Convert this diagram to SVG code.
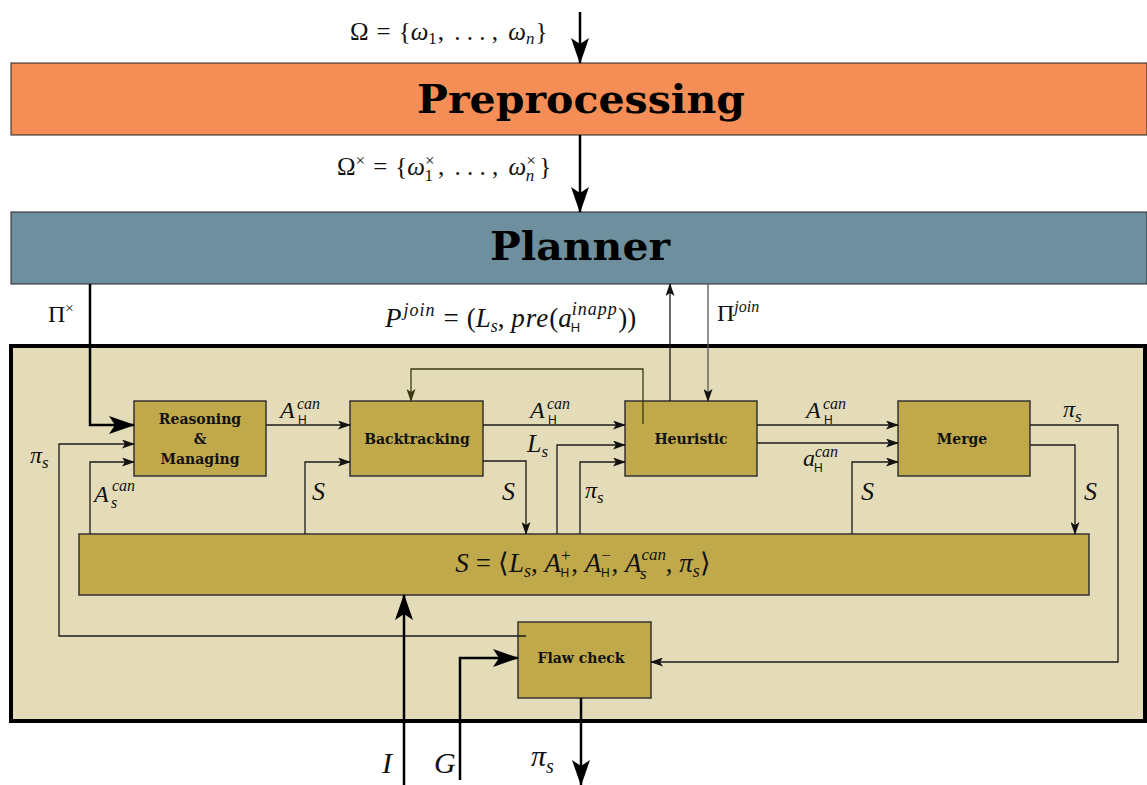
<svg xmlns="http://www.w3.org/2000/svg" width="1147" height="785" viewBox="0 0 1147 785">
<defs>
<style>
.m{font-family:"Liberation Serif",serif;fill:#111}
.i{font-style:italic}
.h{font-family:"Liberation Sans",sans-serif;fill:#111}
.b{font-family:"DejaVu Serif",serif;font-weight:bold;font-size:14px;text-anchor:middle;fill:#111}
.title{font-family:"DejaVu Serif",serif;font-weight:bold;font-size:40px;text-anchor:middle;fill:#000}
.box{fill:#C0A94B;stroke:#333;stroke-width:1.5}
.c{fill:none;stroke:#1a1a1a;stroke-width:1.3;marker-end:url(#sa)}
.t{fill:none;stroke:#000;stroke-width:2.5;marker-end:url(#ba)}
</style>
<marker id="sa" markerUnits="userSpaceOnUse" markerWidth="13" markerHeight="9" viewBox="0 0 13 9" refX="12" refY="4.5" orient="auto">
<path d="M0,0 L13,4.5 L0,9 L3,4.5 z" fill="#111"/>
</marker>
<marker id="sao" markerUnits="userSpaceOnUse" markerWidth="13" markerHeight="9" viewBox="0 0 13 9" refX="12" refY="4.5" orient="auto">
<path d="M0,0 L13,4.5 L0,9 L3,4.5 z" fill="#3b3a0f"/>
</marker>
<marker id="ba" markerUnits="userSpaceOnUse" markerWidth="26" markerHeight="18" viewBox="0 0 26 18" refX="25" refY="9" orient="auto">
<path d="M0,0 L26,9 L0,18 L6,9 z" fill="#000"/>
</marker>
</defs>
<rect width="1147" height="785" fill="#fff"/>

<g id="preprocessing">
<rect x="11" y="63" width="1136" height="72" fill="#F48E56" stroke="#222" stroke-width="1"/>
<text class="title" x="581" y="113" textLength="328" lengthAdjust="spacingAndGlyphs">Preprocessing</text>
</g>
<g id="planner">
<rect x="11" y="212" width="1136" height="72" fill="#6E909E" stroke="#222" stroke-width="1"/>
<text class="title" x="580" y="260" textLength="180" lengthAdjust="spacingAndGlyphs">Planner</text>
</g>

<g id="module">
<rect x="11" y="346" width="1134" height="375" fill="#E4DCB8" stroke="#000" stroke-width="4"/>
</g>

<g id="reasoning">
<rect class="box" x="134" y="401" width="132" height="75"/>
<text class="b" x="200" y="424">Reasoning</text>
<text class="b" x="200" y="444">&amp;</text>
<text class="b" x="200" y="464">Managing</text>
</g>
<g id="backtracking">
<rect class="box" x="350" y="401" width="133" height="75"/>
<text class="b" x="417" y="444">Backtracking</text>
</g>
<g id="heuristic">
<rect class="box" x="625" y="401" width="132" height="75"/>
<text class="b" x="691" y="444">Heuristic</text>
</g>
<g id="merge">
<rect class="box" x="898" y="401" width="132" height="75"/>
<text class="b" x="962" y="444">Merge</text>
</g>
<g id="state">
<rect class="box" x="79" y="534" width="1010" height="61"/>
<text class="m" x="583" y="572" text-anchor="middle" font-size="27"><tspan class="i">S</tspan><tspan dx="7">=</tspan><tspan dx="7">⟨</tspan><tspan class="i">L</tspan><tspan class="i" font-size="18" dy="5">s</tspan><tspan dy="-5">, </tspan><tspan class="i">A</tspan><tspan font-size="17" dy="-11">+</tspan><tspan class="h" font-size="12" dx="-10" dy="16">H</tspan><tspan dx="2" dy="-5">, </tspan><tspan class="i">A</tspan><tspan font-size="17" dy="-11">−</tspan><tspan class="h" font-size="12" dx="-10" dy="16">H</tspan><tspan dx="2" dy="-5">, </tspan><tspan class="i">A</tspan><tspan class="i" font-size="17" dy="-12">can</tspan><tspan class="i" font-size="17" dx="-26" dy="19">s</tspan><tspan dx="19" dy="-7">, </tspan><tspan class="i">π</tspan><tspan class="i" font-size="18" dy="5">s</tspan><tspan dy="-5">⟩</tspan></text>
</g>
<g id="flawcheck">
<rect class="box" x="518" y="622" width="133" height="76"/>
<text class="b" x="581" y="663">Flaw check</text>
</g>

<g id="connectors">
<path class="t" d="M580,12 V63"/>
<path class="t" d="M580,135 V212"/>
<path class="t" d="M90,284 V425 H134"/>
<path class="t" d="M404,785 V595"/>
<path class="t" d="M460,780 V658 H518"/>
<path class="t" d="M581,698 V785"/>
<path class="c" d="M266,425 H350"/>
<path class="c" d="M526,636 H59 V444 H134"/>
<path class="c" d="M90,534 V462 H134"/>
<path class="c" d="M305,534 V462 H350"/>
<path d="M643,424 V369 H411 V401" fill="none" stroke="#3b3a0f" stroke-width="1.3" marker-end="url(#sao)"/>
<path class="c" d="M483,425 H625"/>
<path class="c" d="M483,461 H526 V534"/>
<path class="c" d="M557,534 V445 H625"/>
<path class="c" d="M580,534 V462 H625"/>
<path class="c" d="M757,425 H898"/>
<path class="c" d="M757,443 H898"/>
<path class="c" d="M852,534 V462 H898"/>
<path class="c" d="M1030,425 H1118 V662 H651"/>
<path class="c" d="M1030,445 H1075 V534"/>
<path class="c" d="M670,401 V284"/>
<path class="c" d="M708,284 V401" style="stroke:#555"/>
</g>

<g id="labels">
<text class="m" x="350" y="40" font-size="25">Ω<tspan dx="8">=</tspan><tspan dx="8">{</tspan><tspan class="i">ω</tspan><tspan font-size="17" dy="4">1</tspan><tspan dx="1" dy="-4">, </tspan><tspan dx="4">. . . , </tspan><tspan dx="4" class="i">ω</tspan><tspan class="i" font-size="17" dy="4">n</tspan><tspan dx="1" dy="-4">}</tspan></text>
<text class="m" x="337" y="175" font-size="25">Ω<tspan font-size="17" dy="-9">×</tspan><tspan dx="8" dy="9">=</tspan><tspan dx="8">{</tspan><tspan class="i">ω</tspan><tspan font-size="17" dy="-9">×</tspan><tspan font-size="17" dx="-10" dy="15">1</tspan><tspan dx="5" dy="-6">, </tspan><tspan dx="4">. . . , </tspan><tspan dx="4" class="i">ω</tspan><tspan font-size="17" dy="-9">×</tspan><tspan class="i" font-size="17" dx="-10" dy="15">n</tspan><tspan dx="5" dy="-6">}</tspan></text>
<text class="m" x="48" y="322" font-size="24">Π<tspan font-size="15" dy="-9">×</tspan></text>
<text class="m" x="385" y="327" font-size="27"><tspan class="i">P</tspan><tspan class="i" font-size="18" dx="2" dy="-11" letter-spacing="1">join</tspan><tspan dx="8" dy="11">=</tspan><tspan dx="8">(</tspan><tspan class="i">L</tspan><tspan class="i" font-size="18" dy="5">s</tspan><tspan dy="-5">, </tspan><tspan class="i" letter-spacing="1">pre</tspan>(<tspan class="i">a</tspan><tspan class="i" font-size="18" dy="-12" letter-spacing="1">inapp</tspan><tspan class="h" font-size="13" dx="-47" dy="17">H</tspan><tspan dx="38" dy="-5">))</tspan></text>
<text class="m" x="717" y="321" font-size="24">Π<tspan class="i" font-size="16" dy="-9">join</tspan></text>

<text class="m i" x="280" y="418" font-size="24">A</text><text class="m i" x="297" y="409" font-size="16">can</text><text class="h" x="298" y="424" font-size="12">H</text>
<text class="m i" x="530" y="418" font-size="24">A</text><text class="m i" x="547" y="409" font-size="16">can</text><text class="h" x="548" y="424" font-size="12">H</text>
<text class="m i" x="806" y="418" font-size="24">A</text><text class="m i" x="823" y="409" font-size="16">can</text><text class="h" x="824" y="424" font-size="12">H</text>
<text class="m i" x="803" y="466" font-size="24">a</text><text class="m i" x="815" y="457" font-size="16">can</text><text class="h" x="814" y="472" font-size="12">H</text>
<text class="m i" x="94" y="502" font-size="24">A</text><text class="m i" x="112" y="491" font-size="16">can</text><text class="m i" x="111" y="508" font-size="16">s</text>
<text class="m i" x="30" y="463" font-size="24">π<tspan font-size="17" dy="5">s</tspan></text>
<text class="m i" x="527" y="452" font-size="26">L<tspan font-size="17" dy="5">s</tspan></text>
<text class="m i" x="585" y="498" font-size="24">π<tspan font-size="17" dy="5">s</tspan></text>
<text class="m i" x="1063" y="417" font-size="24">π<tspan font-size="17" dy="5">s</tspan></text>
<text class="m i" x="312" y="500" font-size="26">S</text>
<text class="m i" x="502" y="500" font-size="26">S</text>
<text class="m i" x="861" y="500" font-size="26">S</text>
<text class="m i" x="1084" y="500" font-size="26">S</text>
<text class="m i" x="382" y="773" font-size="30">I</text>
<text class="m i" x="434" y="773" font-size="30">G</text>
<text class="m i" x="531" y="766" font-size="30">π<tspan font-size="20" dy="7">s</tspan></text>
</g>
</svg>
